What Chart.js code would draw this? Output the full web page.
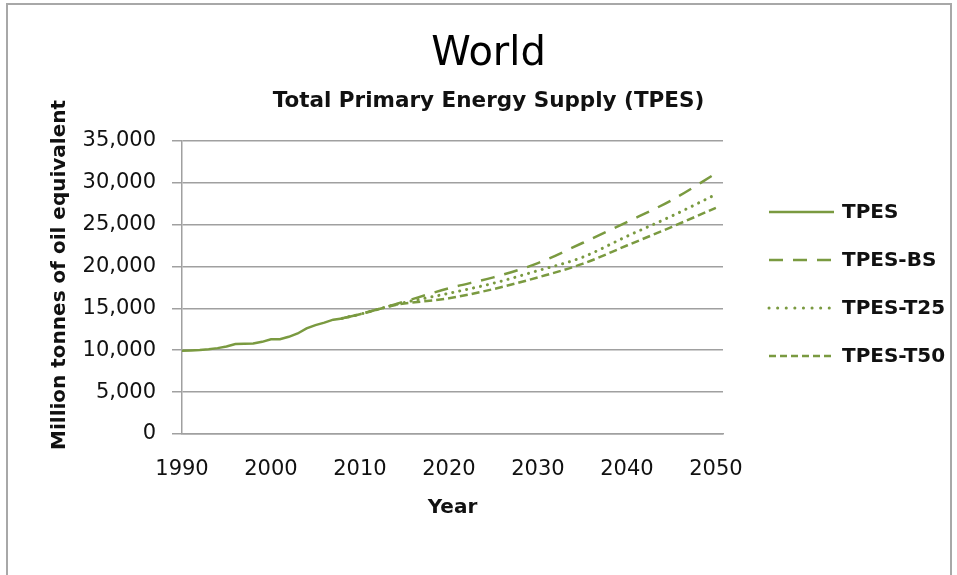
<!DOCTYPE html>
<html>
<head>
<meta charset="utf-8">
<script src="https://cdn.jsdelivr.net/npm/chart.js@4"></script>
<style>
  html, body { margin: 0; padding: 0; background: #fff; }
  #wrap { position: relative; width: 957px; height: 575px; overflow: hidden; }
  #frame { position: absolute; left: 6px; top: 3px; width: 946px; height: 620px; border: 2px solid #a8a8a8; box-sizing: border-box; pointer-events: none; }
  canvas { position: absolute; left: 0; top: 0; }
</style>
</head>
<body>
<div id="wrap">
  <canvas id="c" width="957" height="575"></canvas>
  <div id="frame"></div>
</div>
<script>
// ---- data ----
const histYears = [1990,1991,1992,1993,1994,1995,1996,1997,1998,1999,2000,2001,2002,2003,2004,2005,2006,2007,2008];
const tpes      = [9950,9980,10020,10120,10250,10450,10750,10780,10800,11000,11300,11320,11600,12000,12600,13000,13300,13650,13800];
const projYears = [2008, 2010, 2014, 2020, 2025, 2030, 2035, 2040, 2045, 2050];
const tpesBS    = [13800, 14300, 15500, 17400, 18700, 20400, 22800, 25300, 27900, 31100];
const tpesT25   = [13800, 14300, 15450, 16800, 18000, 19500, 21100, 23600, 26000, 28600];
const tpesT50   = [13800, 14300, 15400, 16200, 17300, 18700, 20300, 22500, 24700, 27000];
const seriesNames = ['TPES', 'TPES-BS', 'TPES-T25', 'TPES-T50'];
const xTicks = [1990, 2000, 2010, 2020, 2030, 2040, 2050];
const yTicks = [0, 5000, 10000, 15000, 20000, 25000, 30000, 35000];

const GREEN = '#7a9a40';
const FONT = '"DejaVu Sans"';

function pts(xs, ys) { return xs.map((x, i) => ({x: x, y: ys[i]})); }

const legendPlugin = {
  id: 'sideLegend',
  afterDraw(chart) {
    const ctx = chart.ctx;
    const x0 = 769, x1 = 834, tx = 842, y0 = 212, dy = 48;
    chart.data.datasets.forEach((ds, i) => {
      const y = y0 + i * dy;
      ctx.save();
      ctx.strokeStyle = ds.borderColor;
      ctx.lineWidth = ds.borderWidth;
      ctx.lineCap = ds.borderCapStyle || 'butt';
      ctx.setLineDash(ds.legendDash || ds.borderDash || []);
      ctx.beginPath();
      ctx.moveTo(x0, y);
      ctx.lineTo(x1, y);
      ctx.stroke();
      ctx.setLineDash([]);
      ctx.fillStyle = '#111';
      ctx.font = 'bold 20px ' + FONT;
      ctx.textBaseline = 'middle';
      ctx.textAlign = 'left';
      ctx.fillText(ds.label, tx, y + 1);
      ctx.restore();
    });
  }
};

new Chart(document.getElementById('c'), {
  type: 'line',
  data: {
    datasets: [
      { label: seriesNames[0], data: pts(histYears, tpes), borderColor: GREEN, borderWidth: 2.5, pointRadius: 0, tension: 0 },
      { label: seriesNames[1], data: pts(projYears, tpesBS), borderColor: GREEN, borderWidth: 2.5, borderDash: [14, 10], pointRadius: 0, cubicInterpolationMode: 'monotone' },
      { label: seriesNames[2], data: pts(projYears, tpesT25), borderColor: GREEN, borderWidth: 3, borderDash: [0.1, 7], borderCapStyle: 'round', legendDash: [0.1, 8.5], pointRadius: 0, cubicInterpolationMode: 'monotone' },
      { label: seriesNames[3], data: pts(projYears, tpesT50), borderColor: GREEN, borderWidth: 2.5, borderDash: [8, 4], pointRadius: 0, cubicInterpolationMode: 'monotone', legendDash: [7, 4] }
    ]
  },
  options: {
    responsive: false,
    animation: false,
    layout: { padding: { left: 20, right: 0, top: 0, bottom: 0 } },
    plugins: {
      legend: { display: false },
      tooltip: { enabled: false },
      title: { display: true, text: 'World', color: '#000', font: { family: FONT, size: 40, weight: 'normal' }, padding: { top: 31, bottom: 10 } },
      subtitle: { display: true, text: 'Total Primary Energy Supply (TPES)', color: '#111', font: { family: FONT, size: 21.5, weight: 'bold' }, padding: { top: 0, bottom: 26 } }
    },
    scales: {
      x: {
        type: 'linear', min: 1990, max: 2050.8,
        afterBuildTicks: s => { s.ticks = xTicks.map(v => ({ value: v })); },
        afterFit: s => { s.height = 141; },
        grid: { display: false, drawTicks: false },
        border: { display: true, color: '#a0a0a0', width: 1.5 },
        ticks: { color: '#111', font: { family: FONT, size: 21 }, padding: 23, maxRotation: 0, autoSkip: false, callback: v => String(v) },
        title: { display: true, text: 'Year', color: '#111', font: { family: FONT, size: 20, weight: 'bold' }, padding: { top: 0, bottom: 55 } }
      },
      y: {
        min: 0, max: 35000,
        afterBuildTicks: s => { s.ticks = yTicks.map(v => ({ value: v })); },
        afterFit: s => { s.width = 162; },
        grid: { color: '#a0a0a0', lineWidth: 1.5, drawTicks: true, tickLength: 10 },
        border: { display: true, color: '#a0a0a0', width: 1.5 },
        ticks: { color: '#111', font: { family: FONT, size: 21 }, padding: 16, callback: v => v.toLocaleString('en-US') },
        title: { display: true, text: '   \u2009Million tonnes of oil equivalent', color: '#111', font: { family: FONT, size: 20, weight: 'bold' }, padding: { top: 28, bottom: 0 } }
      },
      legendSpace: {
        type: 'linear', position: 'right', min: 0, max: 1, display: true,
        afterFit: s => { s.width = 234; },
        grid: { display: false, drawTicks: false },
        border: { display: false },
        ticks: { display: false }
      }
    }
  },
  plugins: [legendPlugin]
});
</script>
</body>
</html>
